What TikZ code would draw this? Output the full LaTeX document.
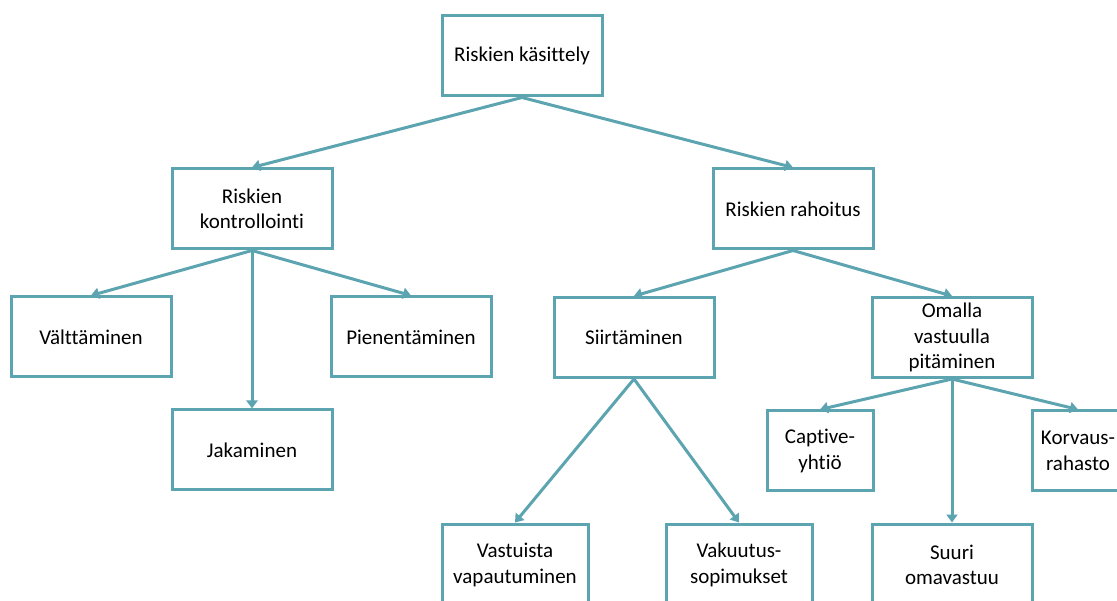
\documentclass[tikz,border=0pt]{standalone}
\usepackage{fontspec}
\setmainfont{Carlito}[Ligatures={NoCommon}]
\usetikzlibrary{arrows.meta}
\definecolor{teal1}{RGB}{91,164,176}
\begin{document}
\begin{tikzpicture}[x=1pt,y=-1pt,
  box/.style={draw=teal1,line width=3pt,fill=white,rectangle,align=center,
    minimum width=160pt,minimum height=80pt,inner sep=2pt,
    font=\fontsize{21}{25.5}\selectfont},
  arr/.style={draw=teal1,line width=3pt,-{Triangle[length=8pt,width=11pt]}}]
\clip (0,0) rectangle (1117,601);
\fill[white] (0,0) rectangle (1117,601);
\node[box] (top) at (522,56) {Riskien käsittely};
\node[box] (kon) at (252,209) {Riskien\\kontrollointi};
\node[box] (rah) at (793,209) {Riskien rahoitus};
\node[box] (val) at (91,337) {Välttäminen};
\node[box] (pie) at (411,337) {Pienentäminen};
\node[box] (jak) at (252,450) {Jakaminen};
\node[box] (sii) at (634,337.5) {Siirtäminen};
\node[box] (oma) at (952,337.5) {Omalla\\vastuulla\\pitäminen};
\node[box,minimum width=106pt] (cap) at (820,451) {Captive-\\yhtiö};
\node[box,minimum width=92pt] (kor) at (1078,451) {Korvaus-\\rahasto};
\node[box,minimum width=160pt,minimum height=82pt] (suu) at (952,565) {Suuri\\omavastuu};
\node[box,minimum width=146pt,minimum height=82pt] (vas) at (515,565) {Vastuista\\vapautuminen};
\node[box,minimum width=146pt,minimum height=82pt] (vak) at (739,565) {Vakuutus-\\sopimukset};
\draw[arr] (top.south) -- (kon.north);
\draw[arr] (top.south) -- (rah.north);
\draw[arr] (kon.south) -- (val.north);
\draw[arr] (kon.south) -- (jak.north);
\draw[arr] (kon.south) -- (pie.north);
\draw[arr] (rah.south) -- (sii.north);
\draw[arr] (rah.south) -- (oma.north);
\draw[arr] (sii.south) -- (vas.north);
\draw[arr] (sii.south) -- (vak.north);
\draw[arr] (oma.south) -- (cap.north);
\draw[arr] (oma.south) -- (suu.north);
\draw[arr] (oma.south) -- (kor.north);
\end{tikzpicture}
\end{document}
